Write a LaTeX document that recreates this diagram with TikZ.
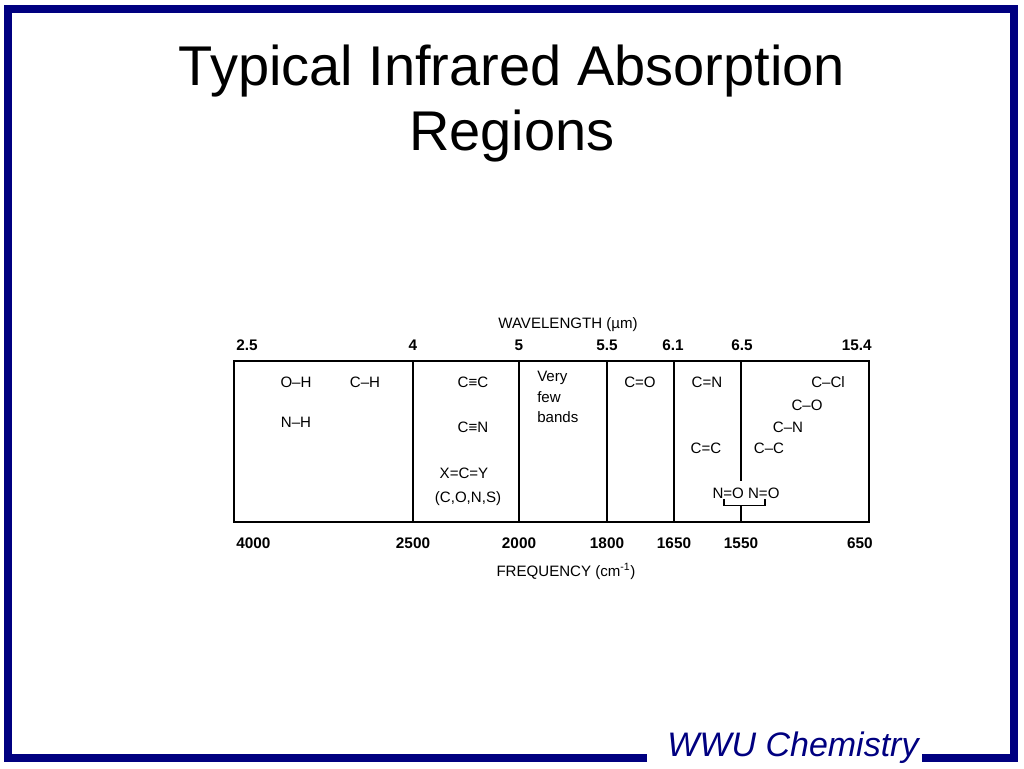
\documentclass[tikz,border=0pt]{standalone}
\usepackage{fontspec}
\setmainfont{Liberation Sans}
\usetikzlibrary{positioning}
\definecolor{wwunavy}{RGB}{0,0,128}

\begin{document}
\begin{tikzpicture}[x=0.75pt,y=-0.75pt]
    \tikzstyle{tick}=[font=\fontsize{11.5}{13}\selectfont\bfseries, inner sep=0pt, anchor=base]
    \tikzstyle{bond}=[font=\fontsize{11.3}{15.5}\selectfont, inner sep=0pt, anchor=base]
    \tikzstyle{axislabel}=[font=\fontsize{11.3}{13}\selectfont, inner sep=0pt, anchor=base]
    \tikzstyle{divider}=[line width=1.4pt]

    \useasboundingbox (0,0) rectangle (1024,768);

    \draw[wwunavy, line width=6pt] (647,758) -- (8,758) -- (8,8.5) -- (1014,8.5) -- (1014,758) -- (922,758);

    \node[anchor=base, inner sep=0pt, font=\fontsize{42}{48}\selectfont] (title) at (512,85) {Typical Infrared Absorption};
    \node[anchor=base, inner sep=0pt, font=\fontsize{42}{48}\selectfont] (title2) at (512,150) {Regions};

    \coordinate (nw) at (234,361);
    \coordinate (se) at (869,522);
    \draw[divider] (nw) rectangle (se);
    \foreach \x in {413,519,607,674}
      \draw[divider] (\x,361) -- (\x,522);
    \coordinate (splittop) at (741,361);
    \coordinate (splitend) at (741,481);
    \coordinate (bracketmid) at (741,505.5);
    \coordinate (splitbot) at (741,522);
    \draw[divider] (splittop) -- (splitend);
    \draw[divider] (bracketmid) -- (splitbot);
    \draw[line width=1.1pt] (724,499) -- (724,505.5) -- (765,505.5) -- (765,499);

    \node[axislabel] (wavelength) at (568,328) {WAVELENGTH (µm)};
    \node[axislabel] (frequency) at (566,576) {FREQUENCY (cm\textsuperscript{-1})};

    \node[tick, anchor=base west] (w25) at (236,350) {2.5};
    \node[tick] (w4) at (413,350) {4};
    \node[tick] (w5) at (519,350) {5};
    \node[tick] (w55) at (607,350) {5.5};
    \node[tick] (w61) at (673,350) {6.1};
    \node[tick] (w65) at (742,350) {6.5};
    \node[tick, anchor=base east] (w154) at (872,350) {15.4};

    \node[tick, anchor=base west] (f4000) at (236,548) {4000};
    \node[tick] (f2500) at (413,548) {2500};
    \node[tick] (f2000) at (519,548) {2000};
    \node[tick] (f1800) at (607,548) {1800};
    \node[tick] (f1650) at (674,548) {1650};
    \node[tick] (f1550) at (741,548) {1550};
    \node[tick, anchor=base east] (f650) at (873,548) {650};

    \node[bond] (oh) at (296,387) {O–H};
    \node[bond] (ch) at (365,387) {C–H};
    \node[bond] (nh) at (296,427) {N–H};
    \node[bond] (cc3) at (473,387) {C≡C};
    \node[bond] (cn3) at (473,432) {C≡N};
    \node[bond] (xcy) at (464,478) {X=C=Y};
    \node[bond] (cons) at (468,502) {(C,O,N,S)};
    \node[bond, anchor=north west, align=left] (few) at (537,371) {Very\\few\\bands};
    \node[bond] (co2) at (640,387) {C=O};
    \node[bond] (cn2) at (707,387) {C=N};
    \node[bond] (cc2) at (706,453) {C=C};
    \node[bond] (no) at (746,498) {N=O N=O};
    \node[bond] (ccl) at (828,387) {C–Cl};
    \node[bond] (co1) at (807,410) {C–O};
    \node[bond] (cn1) at (788,432) {C–N};
    \node[bond] (cc1) at (769,453) {C–C};

    \node[anchor=base, inner sep=0pt, text=wwunavy, font=\fontsize{25.5}{30}\selectfont\itshape] (wwu) at (793,756) {WWU Chemistry};
\end{tikzpicture}
\end{document}
